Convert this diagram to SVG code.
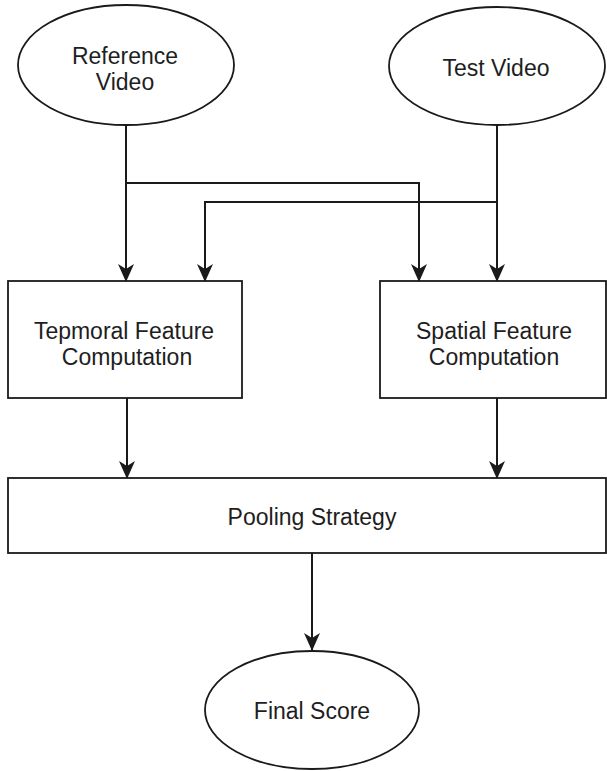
<svg xmlns="http://www.w3.org/2000/svg" width="607" height="771" viewBox="0 0 607 771">
  <style>
    .shape { fill: #ffffff; stroke: #1a1a1a; stroke-width: 1.8; }
    .label { font-family: "Liberation Sans", Arial, Helvetica, sans-serif; font-size: 23px; fill: #1e1e1e; text-anchor: middle; }
    .wire { fill: none; stroke: #1a1a1a; stroke-width: 2; marker-end: url(#head); }
  </style>
  <defs>
    <marker id="head" markerUnits="userSpaceOnUse" viewBox="0 0 18 16" markerWidth="18" markerHeight="16" refX="17" refY="8" orient="auto">
      <path d="M0,0 L18,8 L0,16 L5,8 Z" fill="#1a1a1a"/>
    </marker>
  </defs>
  <rect width="607" height="771" fill="#ffffff"/>

  <!-- connectors -->
  <g id="connectors">
    <path class="wire" d="M126,125 V281"/>
    <path class="wire" d="M126,183 H419 V281"/>
    <path class="wire" d="M497,125 V281"/>
    <path class="wire" d="M497,202 H205 V281"/>
    <path class="wire" d="M127,398 V478"/>
    <path class="wire" d="M497,398 V478"/>
    <path class="wire" d="M312,553 V650"/>
  </g>

  <g id="reference-video">
    <ellipse class="shape" cx="126" cy="65" rx="108" ry="60"/>
    <text class="label" x="125" y="64">Reference</text>
    <text class="label" x="125" y="90">Video</text>
  </g>

  <g id="test-video">
    <ellipse class="shape" cx="497" cy="66" rx="108" ry="59"/>
    <text class="label" x="496" y="76">Test Video</text>
  </g>

  <g id="temporal-feature">
    <rect class="shape" x="8" y="281" width="234" height="117"/>
    <text class="label" x="124" y="339">Tepmoral Feature</text>
    <text class="label" x="127" y="365">Computation</text>
  </g>

  <g id="spatial-feature">
    <rect class="shape" x="380" y="281" width="226" height="117"/>
    <text class="label" x="494" y="339">Spatial Feature</text>
    <text class="label" x="494" y="365">Computation</text>
  </g>

  <g id="pooling-strategy">
    <rect class="shape" x="8" y="478" width="598" height="75"/>
    <text class="label" x="312" y="525">Pooling Strategy</text>
  </g>

  <g id="final-score">
    <ellipse class="shape" cx="312" cy="710" rx="107" ry="59"/>
    <text class="label" x="312" y="719">Final Score</text>
  </g>
</svg>
